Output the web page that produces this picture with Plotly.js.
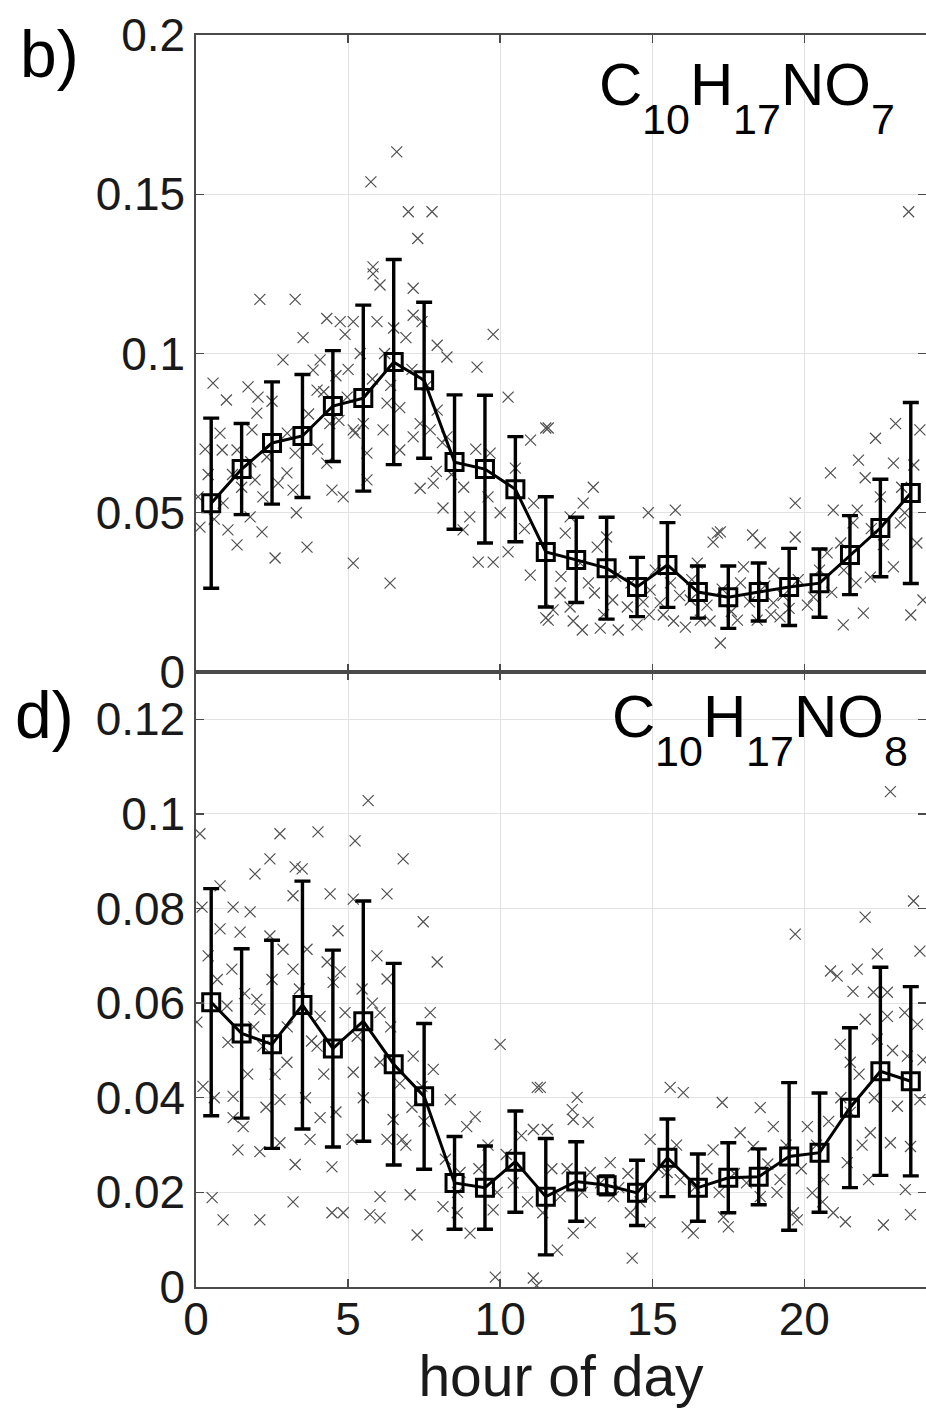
<!DOCTYPE html>
<html>
<head>
<meta charset="utf-8">
<script src="https://cdn.plot.ly/plotly-3.0.1.min.js"></script>
<style>
  html, body { margin: 0; padding: 0; background: #fff; }
  #chart { width: 926px; height: 1408px; }
</style>
</head>
<body>
<div id="chart"></div>
<script>
// Hour-of-day bins (bin centres)
const hours = [0.5, 1.5, 2.5, 3.5, 4.5, 5.5, 6.5, 7.5, 8.5, 9.5, 10.5, 11.5,
               12.5, 13.5, 14.5, 15.5, 16.5, 17.5, 18.5, 19.5, 20.5, 21.5, 22.5, 23.5];

// C10H17NO7: hourly mean and standard deviation
const no7Mean = [0.0530, 0.0637, 0.0719, 0.0741, 0.0835, 0.0860, 0.0973, 0.0916,
                 0.0659, 0.0637, 0.0574, 0.0377, 0.0352, 0.0326, 0.0267, 0.0336,
                 0.0251, 0.0235, 0.0251, 0.0267, 0.0279, 0.0367, 0.0452, 0.0562];
const no7Sd   = [0.0267, 0.0143, 0.0192, 0.0193, 0.0174, 0.0292, 0.0322, 0.0245,
                 0.0211, 0.0232, 0.0165, 0.0173, 0.0134, 0.0160, 0.0093, 0.0133,
                 0.0082, 0.0098, 0.0091, 0.0121, 0.0107, 0.0124, 0.0153, 0.0284];

// C10H17NO8: hourly mean and standard deviation
const no8Mean = [0.0602, 0.0536, 0.0513, 0.0596, 0.0504, 0.0562, 0.0471, 0.0403,
                 0.0220, 0.0210, 0.0265, 0.0191, 0.0223, 0.0215, 0.0199, 0.0273,
                 0.0210, 0.0231, 0.0233, 0.0276, 0.0284, 0.0379, 0.0456, 0.0435];
const no8Sd   = [0.0240, 0.0179, 0.0220, 0.0262, 0.0208, 0.0254, 0.0213, 0.0154,
                 0.0098, 0.0088, 0.0107, 0.0123, 0.0084, 0.0020, 0.0069, 0.0082,
                 0.0071, 0.0074, 0.0059, 0.0156, 0.0126, 0.0169, 0.0220, 0.0200];

// Individual observations [hour, value] for C10H17NO7
const no7Points = [
  [2.1,0.117],[3.26,0.117],[3.52,0.105],[2.86,0.098],[0.56,0.0907],[1.0,0.0854],[1.71,0.0895],
  [2.04,0.0863],[4.3,0.111],[4.74,0.11],[5.17,0.11],[4.9,0.106],[5.82,0.125],[6.05,0.1215],
  [7.14,0.1205],[5.95,0.11],[6.5,0.108],[7.14,0.112],[7.43,0.110],[7.93,0.1026],[8.25,0.0989],
  [9.24,0.0957],[9.77,0.106],[10.26,0.0863],[11.5,0.0766],[11.0,0.0728],[3.85,0.0948],[4.08,0.098],
  [3.98,0.0885],[4.4,0.078],[4.97,0.0863],[5.23,0.075],[6.28,0.0844],[6.15,0.076],[7.14,0.0738],
  [7.37,0.078],[7.7,0.076],[6.7,0.0697],[5.62,0.0687],[5.17,0.076],[5.62,0.0603],[5.17,0.0342],
  [6.38,0.0279],[3.65,0.0392],[2.6,0.0358],[1.35,0.0399],[0.13,0.0455],[1.05,0.0446],[2.17,0.044],
  [1.78,0.0487],[0.89,0.053],[0.07,0.055],[0.79,0.075],[0.86,0.0697],[1.35,0.0697],[1.84,0.076],
  [2.0,0.0813],[2.33,0.0675],[2.99,0.0625],[2.7,0.0593],[3.26,0.0687],[4.3,0.0656],[4.47,0.0571],
  [4.84,0.055],[1.94,0.0603],[3.19,0.0571],[7.37,0.0577],[7.8,0.0593],[8.12,0.0515],[8.78,0.0446],
  [9.28,0.0345],[9.77,0.0345],[10.26,0.0377],[10.99,0.0304],[11.5,0.017],[9.0,0.0487],[9.67,0.0687],
  [11.1,0.053],[7.93,0.0822],[8.25,0.0738],
  [6.6,0.1633],[5.75,0.1539],[6.98,0.1445],[7.76,0.1445],[7.29,0.1361],[23.43,0.1445],[5.82,0.1272],
  [1.2,0.062],[0.4,0.062],[0.3,0.07],[1.5,0.058],[2.5,0.085],[3.0,0.075],[3.7,0.081],[4.2,0.088],
  [4.6,0.093],[5.0,0.095],[5.4,0.1],[5.8,0.092],[6.2,0.1],[6.9,0.105],[7.1,0.095],[7.6,0.09],
  [8.1,0.072],[8.4,0.062],[8.8,0.058],[9.2,0.07],[9.6,0.055],[10.0,0.05],[10.5,0.064],[10.8,0.045],
  [6.7,0.083],[5.5,0.078],[3.3,0.05],[2.2,0.055],[0.6,0.048],[1.8,0.066],[4.0,0.07],[4.7,0.079],
  [6.4,0.09],[7.9,0.063],
  [11.58,0.0766],[13.06,0.058],[12.73,0.053],[12.3,0.0487],[14.87,0.05],[15.76,0.0508],[17.24,0.044],
  [17.0,0.0408],[18.3,0.043],[19.7,0.053],[19.7,0.0424],[20.86,0.0625],[21.78,0.0665],[22.34,0.0734],
  [23.0,0.078],[23.8,0.076],[22.0,0.061],[22.93,0.0656],[20.95,0.0508],[21.74,0.0508],[21.6,0.0468],
  [11.58,0.0163],[12.7,0.0132],[13.29,0.0138],[13.88,0.0132],[14.5,0.0148],[15.36,0.0179],[16.09,0.0141],
  [16.58,0.0163],[17.24,0.0091],[17.8,0.0163],[18.45,0.0163],[19.2,0.0173],[21.28,0.0148],[21.94,0.0185],
  [11.97,0.0248],[12.3,0.0204],[11.74,0.0195],[13.1,0.0248],[13.7,0.0226],[14.93,0.0257],[15.26,0.0217],
  [16.25,0.0226],[16.48,0.0342],[17.14,0.0436],[18.0,0.033],[18.55,0.0405],[18.98,0.0217],[20.3,0.0235],
  [20.75,0.0374],[21.2,0.0405],[22.17,0.0298],[22.93,0.033],[23.16,0.0468],[23.7,0.0405],[23.5,0.0179],
  [23.9,0.0226],[13.5,0.0424],[13.19,0.0392],[12.63,0.0342],[12.14,0.0436],[14.18,0.0204],
  [12.0,0.03],[12.9,0.028],[13.8,0.03],[14.3,0.028],[14.7,0.022],[15.1,0.032],[15.6,0.028],[15.9,0.024],
  [16.3,0.029],[16.8,0.021],[17.3,0.026],[17.6,0.019],[17.9,0.028],[18.2,0.022],[18.7,0.027],[19.0,0.031],
  [19.3,0.024],[19.8,0.029],[20.1,0.021],[20.5,0.032],[20.9,0.025],[21.3,0.032],[21.7,0.028],[22.2,0.045],
  [22.6,0.04],[22.5,0.055],[23.2,0.058],[23.6,0.065],[23.3,0.05],[19.5,0.02],[18.9,0.018],[16.9,0.016],
  [15.7,0.016],[14.9,0.018],[13.4,0.018],[12.4,0.016]
];

// Individual observations [hour, value] for C10H17NO8
const no8Points = [
  [0.13,0.0958],[2.76,0.0958],[4.01,0.0962],[5.23,0.0943],[5.66,0.1028],[6.81,0.0905],[2.43,0.0905],
  [1.94,0.0873],[3.26,0.0888],[3.49,0.0884],[0.79,0.0848],[0.2,0.0803],[1.22,0.0803],[1.78,0.0793],
  [0.79,0.0757],[1.45,0.075],[3.19,0.0827],[4.41,0.0831],[5.17,0.082],[6.28,0.0831],[7.47,0.0772],
  [7.93,0.0687],[4.67,0.0753],[2.43,0.0742],[1.18,0.0672],[2.0,0.0608],[2.86,0.0714],[3.65,0.0714],
  [4.31,0.0687],[4.74,0.0666],[4.51,0.0644],[5.95,0.07],[6.28,0.0651],[5.46,0.063],[3.19,0.0672],
  [0.03,0.056],[1.02,0.0594],[2.1,0.0587],[4.08,0.0572],[6.05,0.058],[7.7,0.058],[1.05,0.0517],
  [2.2,0.0509],[2.99,0.0475],[3.98,0.0509],[5.17,0.0454],[6.05,0.0475],[7.14,0.0488],[7.43,0.0424],
  [8.36,0.0396],[9.18,0.036],[10.0,0.0513],[11.22,0.0422],[0.23,0.0424],[1.22,0.0403],[2.76,0.0396],
  [1.22,0.0358],[1.55,0.0339],[4.08,0.0358],[3.75,0.0312],[2.76,0.0305],[1.38,0.029],[2.1,0.0286],
  [3.26,0.0259],[4.47,0.0254],[5.13,0.0312],[6.28,0.0312],[6.48,0.0354],[6.78,0.0312],[0.53,0.0189],
  [0.89,0.0142],[2.1,0.0142],[3.19,0.018],[4.47,0.0157],[4.84,0.0157],[5.72,0.0153],[6.05,0.0191],
  [6.05,0.0146],[7.04,0.0195],[7.27,0.011],[8.12,0.017],[8.59,0.0157],[9.01,0.0114],[9.84,0.0021],
  [11.09,0.0019],[11.2,0.0003],[11.09,0.0333],[10.43,0.022],[9.77,0.0163],[11.4,0.0157],[8.9,0.0339],
  [8.68,0.0242],
  [0.4,0.07],[0.7,0.065],[1.6,0.062],[1.9,0.055],[2.5,0.065],[2.6,0.045],[3.0,0.055],[3.4,0.063],
  [3.8,0.052],[4.2,0.045],[4.9,0.058],[5.3,0.053],[5.8,0.06],[6.4,0.055],[6.7,0.043],[7.1,0.038],
  [7.5,0.035],[7.8,0.046],[0.6,0.04],[1.7,0.045],[2.3,0.038],[3.6,0.04],[4.6,0.037],[5.5,0.04],
  [6.9,0.03],[8.2,0.027],[8.6,0.02],[9.3,0.025],[9.6,0.03],[10.2,0.028],[10.7,0.032],[11.7,0.025],
  [9.9,0.02],[10.9,0.018],
  [22.83,0.1047],[23.59,0.0816],[22.0,0.0782],[19.7,0.0746],[20.86,0.0668],[21.08,0.0657],[21.74,0.0672],
  [22.4,0.0704],[23.8,0.071],[21.6,0.0625],[22.27,0.0623],[22.73,0.0623],[22.0,0.0566],[22.73,0.0572],
  [23.72,0.0555],[21.18,0.0513],[21.51,0.0475],[22.4,0.0524],[23.39,0.0488],[23.06,0.0382],[23.8,0.0396],
  [21.51,0.0369],[22.17,0.0326],[22.83,0.0305],[23.49,0.0297],[21.41,0.0263],[22.11,0.0227],[23.32,0.0206],
  [21.35,0.0138],[22.6,0.0131],[23.49,0.0153],[20.95,0.0157],[19.77,0.0142],[20.26,0.0199],[20.1,0.0339],
  [18.98,0.0339],[18.55,0.0379],[17.3,0.039],[16.02,0.0411],[15.59,0.0422],[14.93,0.0312],[13.62,0.0263],
  [12.53,0.0401],[12.37,0.0375],[11.32,0.0422],[12.89,0.0348],[12.4,0.0354],[11.55,0.0333],[12.96,0.0136],
  [12.4,0.0114],[11.88,0.0078],[14.34,0.0061],[14.28,0.0157],[14.93,0.0136],[16.15,0.0127],[16.35,0.0114],
  [17.34,0.0148],[17.5,0.0127],[18.55,0.0191],[19.64,0.0157],[17.89,0.0326],[17.0,0.029],[15.92,0.0227],
  [15.49,0.0242],[14.93,0.0191],[12.96,0.0242],[11.97,0.0191],[13.72,0.0191],[20.63,0.0227],[19.2,0.0227],
  [18.32,0.0297],
  [12.2,0.025],[12.7,0.02],[13.3,0.022],[13.9,0.021],[14.2,0.024],[14.6,0.018],[15.2,0.025],[15.8,0.03],
  [16.4,0.021],[16.8,0.025],[17.2,0.02],[17.7,0.024],[18.1,0.022],[18.8,0.026],[19.4,0.03],[19.9,0.025],
  [20.4,0.03],[20.8,0.035],[21.2,0.04],[21.8,0.045],[22.3,0.04],[22.9,0.05],[23.3,0.058],[23.9,0.048],
  [21.9,0.03],[20.6,0.018],[19.1,0.02]
];

// Axis ticks and labels
const hourTicks = [0, 5, 10, 15, 20];
const no7Ticks = [0, 0.05, 0.1, 0.15, 0.2];
const no8Ticks = [0, 0.02, 0.04, 0.06, 0.08, 0.1, 0.12];
const xTitle = 'hour of day';
const panelLabels = ['b)', 'd)'];
// Formula pieces: [text, isSubscript]
const no7Formula = [['C', false], ['10', true], ['H', false], ['17', true], ['NO', false], ['7', true]];
const no8Formula = [['C', false], ['10', true], ['H', false], ['17', true], ['NO', false], ['8', true]];

const FONT = 'Liberation Sans, Arial, Helvetica, sans-serif';
const W = 926, H = 1408;
const M = {l: 196, r: 0, t: 35, b: 121};
const plotW = W - M.l - M.r, plotH = H - M.t - M.b;
const splitPx = 672;                       // shared border between the panels
const split = (H - M.b - splitPx) / plotH; // in paper units

function scatterTrace(points, xa, ya) {
  return {
    x: points.map(p => p[0]), y: points.map(p => p[1]),
    xaxis: xa, yaxis: ya, type: 'scatter', mode: 'markers', hoverinfo: 'skip',
    marker: {symbol: 'x-thin-open', size: 11, color: '#505050', line: {width: 1.2, color: '#505050'}}
  };
}
function meanTrace(mean, sd, xa, ya) {
  return {
    x: hours, y: mean, xaxis: xa, yaxis: ya, type: 'scatter', mode: 'lines+markers',
    line: {color: '#000', width: 3},
    marker: {symbol: 'square-open', size: 17, color: '#000', line: {width: 3, color: '#000'}},
    error_y: {type: 'data', array: sd, visible: true, color: '#000', thickness: 3.4, width: 8}
  };
}

const data = [
  scatterTrace(no7Points, 'x', 'y'),
  meanTrace(no7Mean, no7Sd, 'x', 'y'),
  scatterTrace(no8Points, 'x2', 'y2'),
  meanTrace(no8Mean, no8Sd, 'x2', 'y2')
];

const axisCommon = {
  showline: true, linecolor: '#4a4a4a', linewidth: 1.6, mirror: 'ticks',
  ticks: 'inside', ticklen: 8, tickwidth: 1.4, tickcolor: '#4a4a4a',
  showgrid: true, gridcolor: '#e2e2e2', gridwidth: 1, zeroline: false,
  tickfont: {family: FONT, size: 46, color: '#1a1a1a'}, fixedrange: true
};

// text placed by pixel position of its left edge and baseline
function pxText(text, leftPx, baselinePx, size) {
  return {
    text: text, showarrow: false, xref: 'paper', yref: 'paper',
    xanchor: 'left', yanchor: 'bottom',
    x: (leftPx - 2 - M.l) / plotW,
    y: (H - M.b - (baselinePx + 0.212 * size + 2)) / plotH,
    font: {family: FONT, size: size, color: '#000'}
  };
}
const ADV = {C: 0.722, H: 0.722, N: 0.722, O: 0.778, d: 0.556};
function formula(pieces, leftPx, baseBig, baseSmall) {
  const big = 60, small = 43;
  const out = [];
  let x = leftPx;
  pieces.forEach(([t, sub]) => {
    const size = sub ? small : big;
    out.push(pxText(t, x, sub ? baseSmall : baseBig, size));
    for (const ch of t) x += (ADV[ch] || ADV.d) * size;
  });
  return out;
}

const annotations = [
  pxText(panelLabels[0], 20, 77, 66),
  pxText(panelLabels[1], 15, 738, 66),
  ...formula(no7Formula, 599, 105, 134),
  ...formula(no8Formula, 612, 737, 766)
];

const layout = {
  width: W, height: H, margin: M,
  paper_bgcolor: '#fff', plot_bgcolor: '#fff', showlegend: false,
  font: {family: FONT, color: '#1a1a1a'},
  xaxis: Object.assign({}, axisCommon, {
    domain: [0, 1], anchor: 'y', range: [0, 24], tickvals: hourTicks, showticklabels: false
  }),
  yaxis: Object.assign({}, axisCommon, {
    domain: [split, 1], anchor: 'x', range: [0, 0.2], tickvals: no7Ticks,
    ticktext: no7Ticks.map(String), ticklabelstandoff: 0
  }),
  xaxis2: Object.assign({}, axisCommon, {
    domain: [0, 1], anchor: 'y2', range: [0, 24], tickvals: hourTicks,
    ticklabelstandoff: -9,
    title: {text: xTitle, font: {family: FONT, size: 57, color: '#1a1a1a'}, standoff: 16}
  }),
  yaxis2: Object.assign({}, axisCommon, {
    domain: [0, split], anchor: 'x2', range: [0, 0.13], tickvals: no8Ticks,
    ticktext: no8Ticks.map(String), ticklabelstandoff: 0
  }),
  annotations: annotations
};

Plotly.newPlot('chart', data, layout, {staticPlot: true, displayModeBar: false});
</script>
</body>
</html>
